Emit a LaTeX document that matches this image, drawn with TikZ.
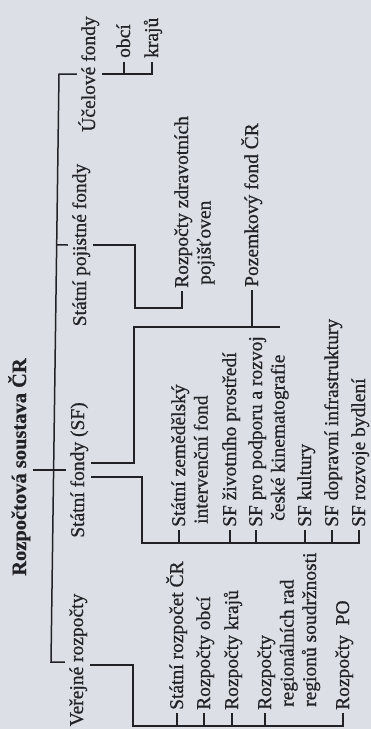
\documentclass[tikz,border=0pt]{standalone}
\usepackage{fontspec}
\setmainfont{Liberation Serif}
\newfontfamily\inkfont{Liberation Serif}[FakeBold=0.7]
\newfontfamily\inkheadfont{Liberation Serif Bold}[FakeBold=0.5]
\usetikzlibrary{calc}
\definecolor{paper}{RGB}{220,224,230}
\definecolor{ink}{RGB}{34,34,38}
% stacked lines of one entry; the baseline is that of the first line
\newcommand{\stk}[1]{\begin{tabular}[t]{@{}l@{}}#1\end{tabular}}
\begin{document}
\begin{tikzpicture}[x=1pt,y=-1pt,
  txt/.style={rotate=90,inner sep=0pt,text=ink,font=\inkfont\fontsize{19.5}{22.5}\selectfont},
  branch/.style={txt,anchor=base,text height=15pt,text depth=4pt,inner ysep=3pt},
  head/.style={branch,font=\inkheadfont\fontsize{20.5}{24}\selectfont},
  leaf/.style={txt,anchor=base west,text height=15pt,text depth=3pt},
  wire/.style={draw=ink,line width=1.5pt}]
\fill[paper] (0,0) rectangle (371,729);
\useasboundingbox (0,0) rectangle (371,729);

% title and the four main branches
\node[head] (title) at (26,467) {Rozpočtová soustava ČR};
\node[branch] (ucel) at (95,74) {Účelové fondy};
\node[branch] (spf) at (86,245) {Státní pojistné fondy};
\node[branch] (sf) at (84,470) {Státní fondy (SF)};
\node[branch] (ver) at (83,660) {Veřejné rozpočty};

% účelové fondy
\node[leaf] (obci) at (130,58) {obcí};
\node[leaf] (kraju) at (158,58) {krajů};

% státní pojistné fondy
\node[leaf] (zdrav) at (188,288) {\stk{Rozpočty zdravotních\\\hspace*{3pt}pojišťoven}};

% státní fondy
\node[leaf] (pozem) at (258,287) {Pozemkový fond ČR};
\node[leaf] (szif) at (185,527) {\stk{Státní zemědělský\\\hspace*{3pt}intervenční fond}};
\node[leaf] (sfzp) at (236,527) {SF životního prostředí};
\node[leaf] (sfkin) at (262,527) {\stk{SF pro podporu a rozvoj\\\hspace*{6pt}české kinematografie}};
\node[leaf] (sfkul) at (311,527) {SF kultury};
\node[leaf] (sfdi) at (338,527) {SF dopravní infrastruktury};
\node[leaf] (sfbyd) at (365,527) {SF rozvoje bydlení};

% veřejné rozpočty
\node[leaf] (sr) at (183,710) {Státní rozpočet ČR};
\node[leaf] (robc) at (210,710) {Rozpočty obcí};
\node[leaf] (rkr) at (238,710) {Rozpočty krajů};
\node[leaf] (rrr) at (271,710) {\stk{Rozpočty\\\hspace*{3pt}regionálních rad\\\hspace*{3pt}regionů soudržnosti}};
\node[leaf] (rpo) at (349,710) {Rozpočty\ \ PO};

% main bar
\coordinate (mtop) at (59,74);
\coordinate (mbot) at (51,662);
\draw[wire] (ucel.north) -- (mtop) -- (mbot) -- (mbot -| ver.north);
\draw[wire] ($(mtop)!(spf.north)!(mbot)$) -- (spf.north);
\draw[wire] (title.south |- sf.north) -- (sf.north);

% účelové fondy
\draw[wire] (ucel.south) -| ([yshift=-4pt]kraju.west);
\draw[wire] ([yshift=-4pt]obci.west) -- (obci.west |- ucel.south);

% státní pojistné fondy
\coordinate (spfbend) at (135,308);
\draw[wire] (spf.south) -| (spfbend) -| ([yshift=-3pt]zdrav.west);

% státní fondy: pozemkový fond
\coordinate (sfup) at (134,327);
\coordinate (sfupend) at (280,327);
\draw[wire] ([yshift=7pt]sf.south) -| (sfup) -- (sfupend);
\draw[wire] ([yshift=-3pt]pozem.west) -- (pozem.west |- sfup);

% státní fondy: list of funds
\coordinate (sfdown) at (142,543);
\draw[wire] ([yshift=-7pt]sf.south) -| (sfdown) -| ([yshift=-3pt]sfbyd.west);
\foreach \n in {szif,sfzp,sfkin,sfkul,sfdi}
  \draw[wire] ([yshift=-3pt]\n.west) -- (\n.west |- sfdown);

% veřejné rozpočty
\coordinate (verdown) at (133,726);
\draw[wire] ([yshift=-5pt]ver.south) -| (verdown) -| ([yshift=-3pt]rpo.west);
\foreach \n in {sr,robc,rkr,rrr}
  \draw[wire] ([yshift=-3pt]\n.west) -- (\n.west |- verdown);
\end{tikzpicture}
\end{document}
